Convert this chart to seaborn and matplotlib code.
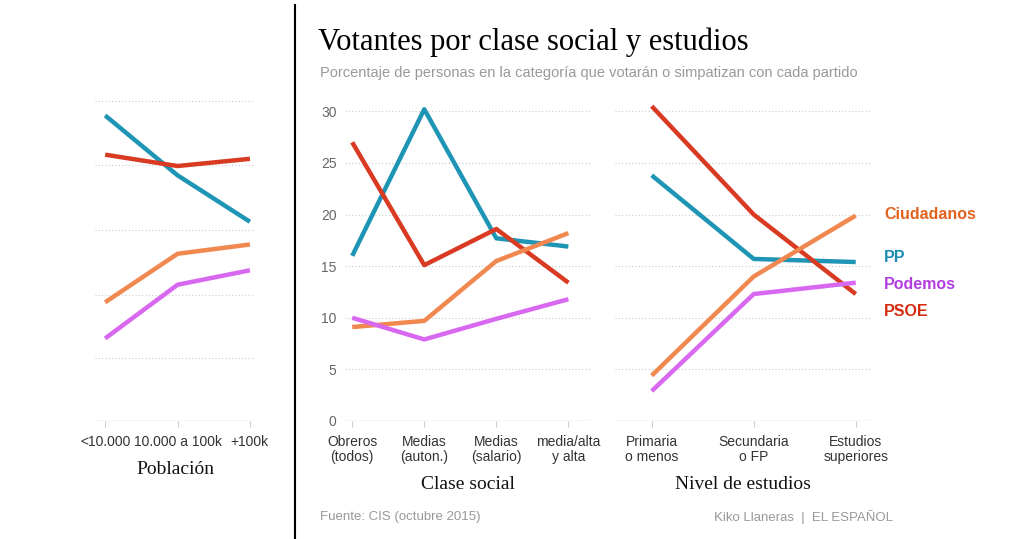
import pandas as pd
import matplotlib.pyplot as plt
import seaborn as sns

partidos = ["PP", "PSOE", "Ciudadanos", "Podemos"]
colores = {"PP": "#1f95b5", "PSOE": "#d93a22", "Ciudadanos": "#f0884f", "Podemos": "#d868f0"}
col_etiqueta = {"Ciudadanos": "#e0621e", "PP": "#1a8cb0", "Podemos": "#b23ee0", "PSOE": "#d52a10"}

poblacion = ["<10.000", "10.000 a 100k", "+100k"]
pob_vals = {"PP": [29.6, 23.8, 19.3], "PSOE": [25.8, 24.7, 25.4],
            "Ciudadanos": [11.5, 16.2, 17.1], "Podemos": [8.0, 13.2, 14.6]}

clase = ["Obreros\n(todos)", "Medias\n(auton.)", "Medias\n(salario)", "media/alta\ny alta"]
clase_vals = {"PP": [16, 30.2, 17.7, 16.9], "PSOE": [27, 15.1, 18.6, 13.4],
              "Ciudadanos": [9.1, 9.7, 15.5, 18.2], "Podemos": [10, 7.9, 9.9, 11.8]}

estudios = ["Primaria\no menos", "Secundaria\no FP", "Estudios\nsuperiores"]
est_vals = {"PP": [23.8, 15.7, 15.4], "PSOE": [30.5, 20, 12.3],
            "Ciudadanos": [4.4, 14, 19.9], "Podemos": [2.9, 12.3, 13.4]}

etiquetas = [("Ciudadanos", 20.0), ("PP", 15.8), ("Podemos", 13.2), ("PSOE", 10.6)]

W, H = 1024, 539
fig = plt.figure(figsize=(10.24, 5.39), dpi=100)
plt.rcParams["font.family"] = ["Liberation Sans", "DejaVu Sans"]
gris = "#999999"
serif = "Liberation Serif"


def panel(x0, x1, cats, vals, xlim, grid, xlabel, ylabels):
    ax = fig.add_axes([x0 / W, 1 - 421 / H, (x1 - x0) / W, 320 / H])
    rows = [(i, p, v) for p in partidos for i, v in enumerate(vals[p])]
    df = pd.DataFrame(rows, columns=["x", "partido", "v"])
    sns.lineplot(data=df, x="x", y="v", hue="partido", palette=colores,
                 linewidth=3.2, legend=False, ax=ax, solid_capstyle="butt")
    for g in grid:
        ax.axhline(g, color="#cccccc", lw=0.8, ls=(0, (1, 2)), zorder=0)
    ax.axhline(0, color="#cccccc", lw=1)
    ax.set_xlim(*xlim)
    ax.set_ylim(0, 31)
    ax.set_xticks(range(len(cats)))
    ax.set_xticklabels(cats, fontsize=10, color="#333333", linespacing=1.1)
    ax.tick_params(axis="x", length=4, color="#cccccc", pad=6)
    if ylabels:
        ax.set_yticks([0, 5, 10, 15, 20, 25, 30])
        ax.tick_params(axis="y", length=0, labelsize=10, labelcolor="#666666", pad=6)
    else:
        ax.set_yticks([])
    for s in ax.spines.values():
        s.set_visible(False)
    ax.set_xlabel(xlabel, family=serif, fontsize=14, color="#111111", labelpad=9)
    ax.set_ylabel("")
    return ax


panel(95, 255, poblacion, pob_vals, (-0.14, 2.07), [31, 24.8, 18.5, 12.2, 6.1], "Población", False)
panel(345, 590, clase, clase_vals, (-0.1, 3.3), [5, 10, 15, 20, 25, 30], "Clase social", True)
ax3 = panel(615, 870, estudios, est_vals, (-0.36, 2.14), [5, 10, 15, 20, 25, 30], "Nivel de estudios", False)

for p, y in etiquetas:
    ax3.text(2.28, y, p, color=col_etiqueta[p], fontsize=11.5, fontweight="bold", va="center", clip_on=False)

fig.add_artist(plt.Line2D([295 / W, 295 / W], [0, 1 - 5 / H], color="black", lw=1.5))
fig.text(318 / W, 1 - 42 / H, "Votantes por clase social y estudios", family=serif,
         fontsize=22, va="center")
fig.text(320 / W, 1 - 73 / H, "Porcentaje de personas en la categoría que votarán o simpatizan con cada partido",
         fontsize=10.5, color=gris, va="center")
fig.text(320 / W, 1 - 517 / H, "Fuente: CIS (octubre 2015)", fontsize=9.5, color=gris, va="center")
fig.text(893 / W, 1 - 517 / H, "Kiko Llaneras  |  EL ESPAÑOL", fontsize=9.5, color=gris, va="center", ha="right")

fig.savefig("out.png", dpi=100, facecolor="white")
